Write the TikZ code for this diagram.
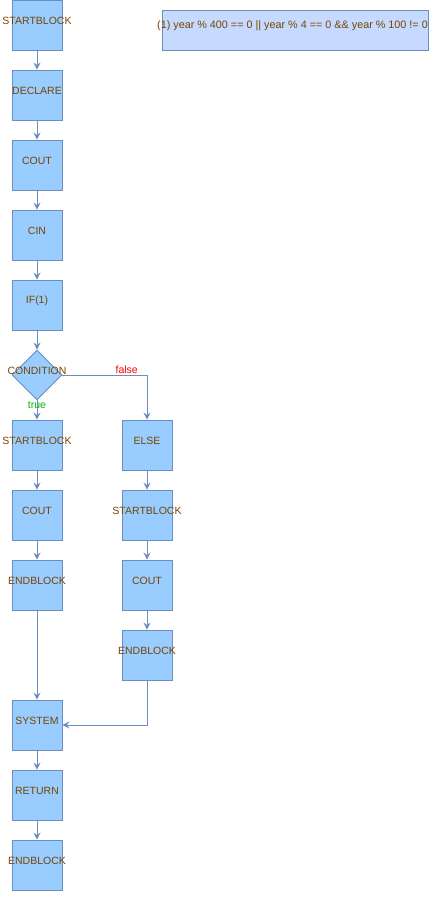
\documentclass[tikz,border=0pt]{standalone}
\usepackage{fontspec}
\setmainfont{Liberation Sans}
\usetikzlibrary{shapes.geometric,arrows.meta}
\definecolor{boxfill}{HTML}{99CCFF}
\definecolor{boxline}{HTML}{6C8EBF}
\definecolor{txtbrown}{HTML}{774400}
\definecolor{notefill}{HTML}{C6DAFF}
\definecolor{falsered}{HTML}{FF0000}
\definecolor{truegreen}{HTML}{00BB00}
\tikzset{
  blk/.style={draw=boxline, fill=boxfill, line width=0.9pt, minimum width=50pt, minimum height=50pt, inner sep=0pt},
  dia/.style={diamond, draw=boxline, fill=boxfill, line width=0.9pt, minimum width=50pt, minimum height=50pt, inner sep=0pt, aspect=1},
  notebox/.style={draw=boxline, fill=notefill, line width=0.9pt, minimum width=266pt, minimum height=40pt, inner sep=0pt},
  txt/.style={text=txtbrown, font=\fontsize{10.5pt}{12pt}\selectfont, inner sep=0pt, yshift=4.5pt},
  notetxt/.style={txt, font=\fontsize{10.8pt}{12pt}\selectfont, xshift=-2.5pt},
  conn/.style={draw=boxline, line width=0.9pt, -{Stealth[length=7pt,width=7pt,inset=2.5pt]}},
  elab/.style={font=\fontsize{10.5pt}{12pt}\selectfont, inner sep=0pt}
}
\begin{document}
\begin{tikzpicture}[x=1pt,y=-1pt]
\useasboundingbox (0,0) rectangle (436,912);
\node[notebox, label={[notetxt]center:(1) year \% 400 == 0 || year \% 4 == 0 \&\& year \% 100 != 0}] (note) at (295,30) {};
\node[blk, label={[txt]center:STARTBLOCK}] (sb1) at (37,25) {};
\node[blk, label={[txt]center:DECLARE}] (decl) at (37,95) {};
\node[blk, label={[txt]center:COUT}] (cout1) at (37,165) {};
\node[blk, label={[txt]center:CIN}] (cin) at (37,235) {};
\node[blk, label={[txt]center:IF(1)}] (if1) at (37,305) {};
\node[dia, label={[txt]center:CONDITION}] (cond) at (37,375) {};
\node[blk, label={[txt]center:STARTBLOCK}] (sb2) at (37,445) {};
\node[blk, label={[txt]center:COUT}] (cout2) at (37,515) {};
\node[blk, label={[txt]center:ENDBLOCK}] (eb1) at (37,585) {};
\node[blk, label={[txt]center:ELSE}] (else) at (147,445) {};
\node[blk, label={[txt]center:STARTBLOCK}] (sb3) at (147,515) {};
\node[blk, label={[txt]center:COUT}] (cout3) at (147,585) {};
\node[blk, label={[txt]center:ENDBLOCK}] (eb2) at (147,655) {};
\node[blk, label={[txt]center:SYSTEM}] (sys) at (37,725) {};
\node[blk, label={[txt]center:RETURN}] (ret) at (37,795) {};
\node[blk, label={[txt]center:ENDBLOCK}] (eb3) at (37,865) {};
\draw[conn] (sb1) -- (decl);
\draw[conn] (decl) -- (cout1);
\draw[conn] (cout1) -- (cin);
\draw[conn] (cin) -- (if1);
\draw[conn] (if1) -- (cond);
\draw[conn] (cond.south) -- node[elab, text=truegreen, pos=0.25] {true} (sb2.north);
\draw[conn] (cond.east) -| node[elab, text=falsered, pos=0.38, yshift=5pt] {false} (else.north);
\draw[conn] (sb2) -- (cout2);
\draw[conn] (cout2) -- (eb1);
\draw[conn] (eb1) -- (sys);
\draw[conn] (else) -- (sb3);
\draw[conn] (sb3) -- (cout3);
\draw[conn] (cout3) -- (eb2);
\draw[conn] (eb2.south) |- (sys.east);
\draw[conn] (sys) -- (ret);
\draw[conn] (ret) -- (eb3);
\end{tikzpicture}
\end{document}
